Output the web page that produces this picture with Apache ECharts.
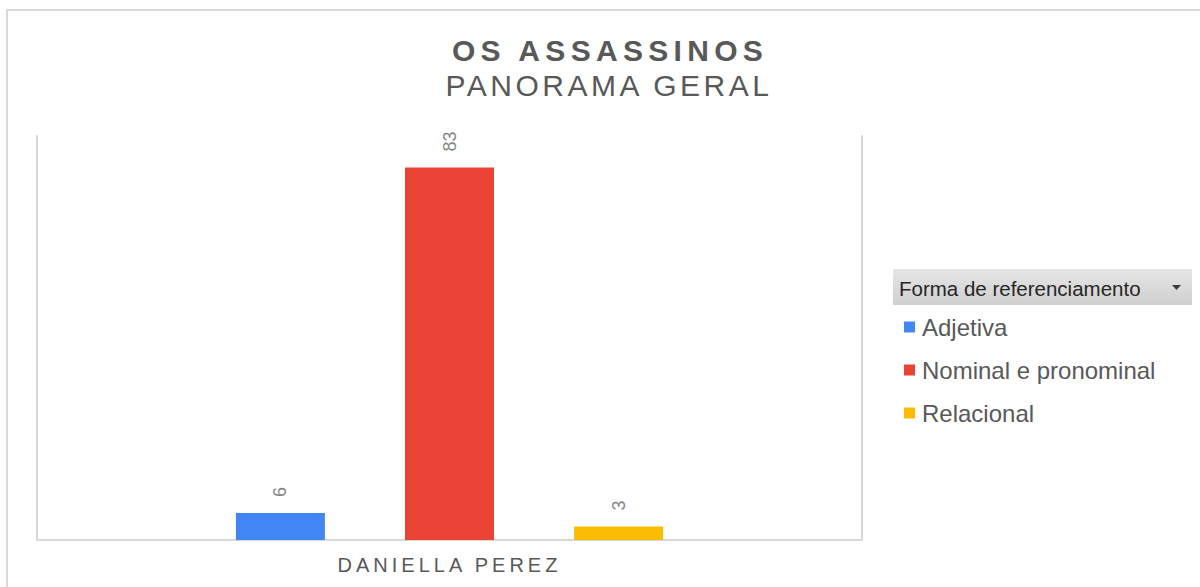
<!DOCTYPE html>
<html>
<head>
<meta charset="utf-8">
<style>
  html, body { margin: 0; padding: 0; background: #ffffff; }
  #chart { width: 1200px; height: 587px; }
</style>
<script src="https://cdn.jsdelivr.net/npm/echarts@6/dist/echarts.min.js"></script>
</head>
<body>
<div id="chart"></div>
<script>
// Chart data
const categories = ['DANIELLA PEREZ'];
const seriesNames = ['Adjetiva', 'Nominal e pronominal', 'Relacional'];
const adjetiva = [6];
const nominal = [83];
const relacional = [3];
const seriesValues = [adjetiva, nominal, relacional];
const seriesColors = ['#4285f4', '#ea4335', '#fbbc04'];

const titleText = 'OS ASSASSINOS';
const subtitleText = 'PANORAMA GERAL';
const legendHeader = 'Forma de referenciamento';

const FONT = '"Liberation Sans", Arial, sans-serif';

// Extra tracking for the capitalised headings (applied to the SVG text nodes)
const tracking = {};
tracking[titleText] = 5.3;
tracking[subtitleText] = 3.5;
tracking[categories[0]] = 4;

const chart = echarts.init(document.getElementById('chart'), null, { renderer: 'svg' });

const valueLabel = {
  show: true,
  position: 'top',
  rotate: 90,
  align: 'left',
  verticalAlign: 'middle',
  distance: 16,
  fontFamily: FONT,
  fontSize: 18,
  color: '#858585'
};

const option = {
  backgroundColor: '#ffffff',
  animation: false,
  title: [
    {
      text: titleText,
      left: 610, top: 35, padding: 0, textAlign: 'center',
      textStyle: { fontFamily: FONT, fontSize: 30, fontWeight: 'bold', color: '#595959' }
    },
    {
      text: subtitleText,
      left: 609, top: 70, padding: 0, textAlign: 'center',
      textStyle: { fontFamily: FONT, fontSize: 30, fontWeight: 'normal', color: '#595959' }
    }
  ],
  grid: { left: 37, right: 338, top: 136, bottom: 47, containLabel: false },
  legend: {
    orient: 'vertical',
    left: 904,
    top: 315,
    padding: 0,
    itemWidth: 11,
    itemHeight: 11,
    itemGap: 19,
    icon: 'rect',
    selectedMode: false,
    data: seriesNames,
    textStyle: { fontFamily: FONT, fontSize: 24, color: '#595959', padding: [0, 0, 0, 2] }
  },
  xAxis: {
    type: 'category',
    data: categories,
    axisLine: { show: true, lineStyle: { color: '#d9d9d9', width: 2 } },
    axisTick: { show: false },
    axisLabel: { margin: 15, fontFamily: FONT, fontSize: 20, color: '#595959' },
    splitLine: { show: false }
  },
  yAxis: [
    {
      type: 'value', min: 0, max: 90, position: 'left',
      axisLine: { show: true, lineStyle: { color: '#d9d9d9', width: 2 } },
      axisTick: { show: false }, axisLabel: { show: false }, splitLine: { show: false }
    },
    {
      type: 'value', min: 0, max: 90, position: 'right',
      axisLine: { show: true, lineStyle: { color: '#d9d9d9', width: 2 } },
      axisTick: { show: false }, axisLabel: { show: false }, splitLine: { show: false }
    }
  ],
  series: seriesNames.map((name, i) => ({
    name: name,
    type: 'bar',
    yAxisIndex: 0,
    data: seriesValues[i],
    barWidth: 89,
    barGap: '90%',
    itemStyle: { color: seriesColors[i] },
    label: valueLabel
  })),
  graphic: [
    // outer frame
    {
      type: 'rect', silent: true, z: -1,
      shape: { x: 7, y: 10, width: 1210, height: 600 },
      style: { fill: 'none', stroke: '#d9d9d9', lineWidth: 2 }
    },
    // legend header bar
    {
      type: 'rect', silent: true,
      shape: { x: 893, y: 269, width: 299, height: 36 },
      style: {
        fill: new echarts.graphic.LinearGradient(0, 0, 0, 1, [
          { offset: 0, color: '#e6e6e6' },
          { offset: 1, color: '#cfcfcf' }
        ])
      }
    },
    {
      type: 'text', silent: true,
      x: 899, y: 288,
      style: {
        text: legendHeader, fontFamily: FONT, fontSize: 20.5, fill: '#262626',
        textAlign: 'left', textVerticalAlign: 'middle'
      }
    },
    {
      type: 'polygon', silent: true,
      shape: { points: [[1172, 285], [1181, 285], [1176.5, 290]] },
      style: { fill: '#3a3a3a' }
    }
  ]
};

chart.setOption(option);

function applyTracking() {
  document.querySelectorAll('#chart text').forEach(function (t) {
    const s = tracking[t.textContent];
    if (s) t.setAttribute('letter-spacing', s + 'px');
  });
}
chart.on('finished', applyTracking);
applyTracking();
</script>
</body>
</html>
